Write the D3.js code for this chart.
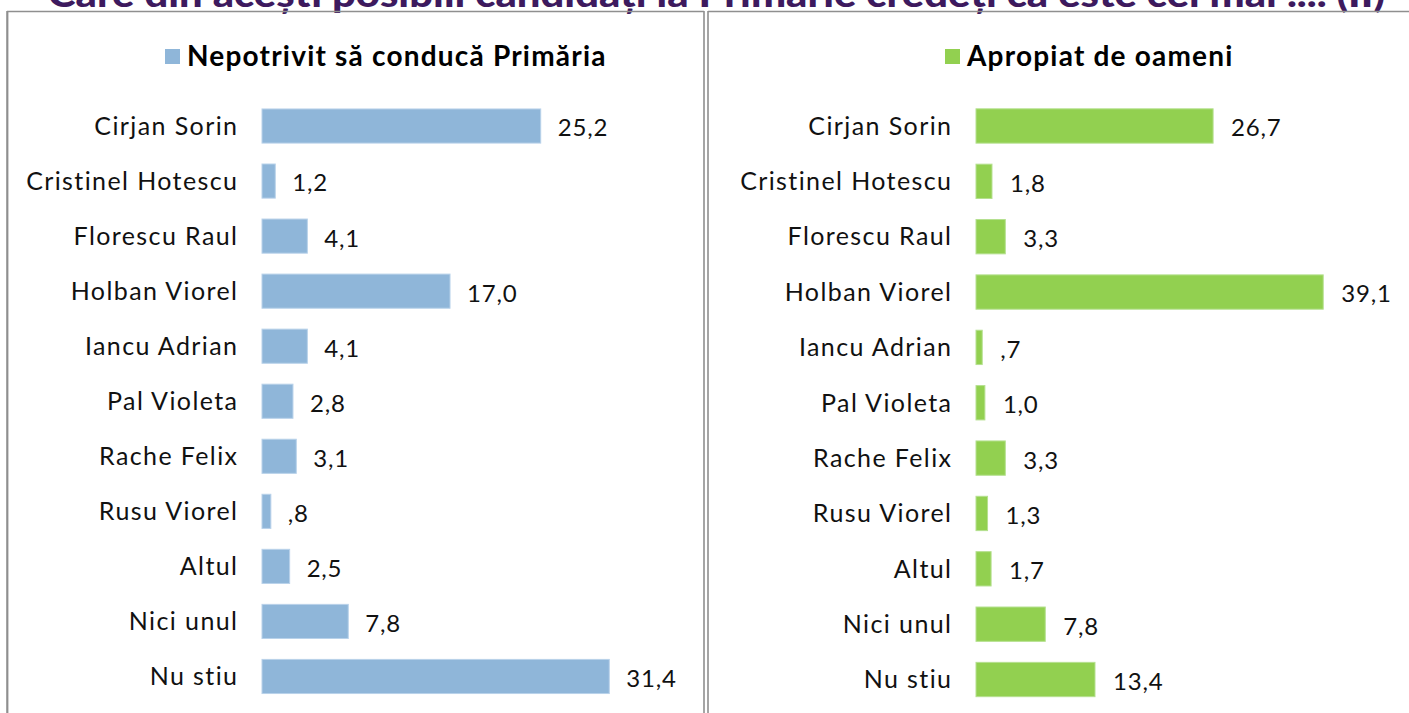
<!DOCTYPE html>
<html><head><meta charset="utf-8">
<script src="https://cdn.jsdelivr.net/npm/d3@7"></script>
<style>
html,body{margin:0;padding:0;background:#fff;overflow:hidden}
svg{display:block}
</style></head>
<body>
<script>
const titleText = "Care din acești posibili candidați la Primărie credeți că este cel mai .... (II)";
const categories = ["Cirjan Sorin","Cristinel Hotescu","Florescu Raul","Holban Viorel","Iancu Adrian","Pal Violeta","Rache Felix","Rusu Viorel","Altul","Nici unul","Nu stiu"];
const seriesLeftName = "Nepotrivit să conducă Primăria";
const seriesLeft = [25.2,1.2,4.1,17.0,4.1,2.8,3.1,0.8,2.5,7.8,31.4];
const seriesRightName = "Apropiat de oameni";
const seriesRight = [26.7,1.8,3.3,39.1,0.7,1.0,3.3,1.3,1.7,7.8,13.4];

const W = 1409, H = 713;
const svg = d3.select("body").append("svg").attr("width", W).attr("height", H);

const fmt = v => d3.format(".1f")(v).replace(".", ",").replace(/^0,/, ",");
const FONT = "Lato, 'Noto Sans', sans-serif";

// title (mostly cut off at top, as in the reference)
svg.append("text").attr("x", 48).attr("y", 7)
  .attr("textLength", 1337).attr("lengthAdjust", "spacingAndGlyphs")
  .style("font-family", FONT).style("font-weight", "900").style("font-size", "36px")
  .attr("fill", "#3d1a5e").text(titleText);

// panel borders
const border = "#8f8f8f";
svg.append("line").attr("x1", 7).attr("x2", 704).attr("y1", 11.5).attr("y2", 11.5).attr("stroke", border).attr("stroke-width", 1.5);
svg.append("line").attr("x1", 708).attr("x2", W).attr("y1", 11.5).attr("y2", 11.5).attr("stroke", border).attr("stroke-width", 1.5);
svg.append("line").attr("x1", 7.3).attr("x2", 7.3).attr("y1", 11).attr("y2", H).attr("stroke", border).attr("stroke-width", 2.2);
svg.append("line").attr("x1", 704).attr("x2", 704).attr("y1", 11).attr("y2", H).attr("stroke", border).attr("stroke-width", 1.6);
svg.append("line").attr("x1", 708).attr("x2", 708).attr("y1", 11).attr("y2", H).attr("stroke", border).attr("stroke-width", 1.6);

function panel(cfg) {
  const g = svg.append("g");
  const y = d3.scaleBand().domain(categories).range(cfg.yRange).paddingInner(0.38).paddingOuter(0.19);
  const x = d3.scaleLinear().domain([0, cfg.xMax]).range([cfg.x0, cfg.x0 + cfg.xMax * cfg.pxPerUnit]);
  const data = categories.map((c, i) => ({c, v: cfg.values[i]}));

  // legend
  g.append("rect").attr("x", cfg.legX).attr("y", 49).attr("width", 15).attr("height", 15).attr("fill", cfg.color);
  g.append("text").attr("x", cfg.legX + 22).attr("y", 66)
    .style("font-family", FONT).style("font-weight", "700").style("font-size", "28px")
    .style("letter-spacing", "1.2px")
    .attr("fill", "#000").text(cfg.name);

  g.selectAll("rect.bar").data(data).join("rect").attr("class", "bar")
    .attr("x", x(0)).attr("y", d => y(d.c))
    .attr("width", d => x(d.v) - x(0)).attr("height", y.bandwidth())
    .attr("fill", cfg.color).attr("stroke", cfg.edge).attr("stroke-width", 1);

  g.selectAll("text.cat").data(data).join("text").attr("class", "cat")
    .attr("x", cfg.labelX + 1.4).attr("y", d => y(d.c) + y.bandwidth() / 2)
    .attr("text-anchor", "end").attr("dy", "0.35em")
    .style("font-family", FONT).style("font-size", "25px").style("letter-spacing", "1.4px")
    .attr("fill", "#111")
    .text(d => d.c);

  g.selectAll("text.val").data(data).join("text").attr("class", "val")
    .attr("x", d => x(d.v) + cfg.valOff).attr("y", d => y(d.c) + y.bandwidth() / 2 + 2)
    .attr("dy", "0.35em")
    .style("font-family", FONT).style("font-size", "24px").style("letter-spacing", "0.8px")
    .attr("fill", "#111")
    .text(d => fmt(d.v));
}

panel({name: seriesLeftName, values: seriesLeft, color: "#8fb6d9", edge: "#b9d2ea",
  x0: 262, xMax: 40, pxPerUnit: 11.06, yRange: [98.5, 704], labelX: 237, valOff: 17, legX: 165});
panel({name: seriesRightName, values: seriesRight, color: "#92d050", edge: "#b5e08f",
  x0: 976, xMax: 45, pxPerUnit: 8.88, yRange: [98.3, 707.2], labelX: 951, valOff: 18, legX: 945});
</script>
</body></html>
